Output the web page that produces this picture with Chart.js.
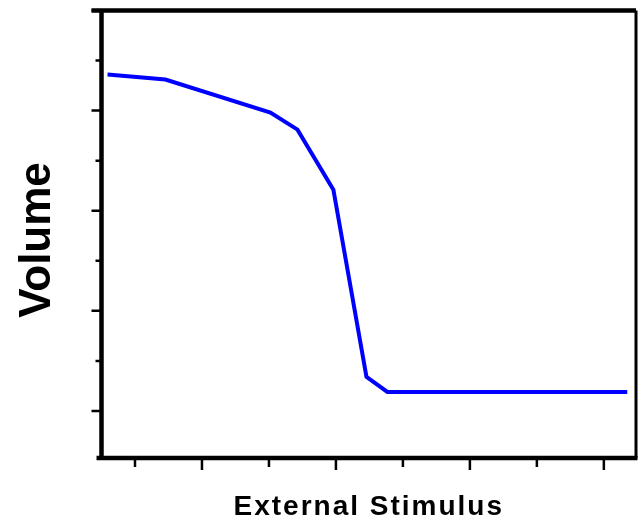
<!DOCTYPE html>
<html>
<head>
<meta charset="utf-8">
<script src="https://cdn.jsdelivr.net/npm/chart.js@4"></script>
<style>
  body { margin: 0; background: #fff; }
  #box { width: 639px; height: 523px; }
</style>
</head>
<body>
<div id="box"><canvas id="g1"></canvas></div>
<script>
// stimulus vs volume curve
const stimulus = [0.295, 0.727, 1.511, 1.713, 1.981, 2.228, 2.384, 4.175];
const volume   = [3.36, 3.31, 2.98, 2.81, 2.21, 0.34, 0.19, 0.19];

const xMajor = [1, 2, 3, 4];
const xMinor = [0.5, 1.5, 2.5, 3.5];
const yMajor = [0, 1, 2, 3, 4];
const yMinor = [0.5, 1.5, 2.5, 3.5];

const xTitle = "External Stimulus";
const yTitle = "Volume";

const points = stimulus.map((s, i) => ({ x: s, y: volume[i] }));

// box frame, outward ticks and axis titles
const frame = {
  id: 'frame',
  afterDraw(chart) {
    const ctx = chart.ctx;
    const a = chart.chartArea;
    const xs = chart.scales.x;
    const ys = chart.scales.y;
    ctx.save();
    ctx.strokeStyle = '#000';
    ctx.lineCap = 'butt';

    ctx.lineWidth = 4.5;
    ctx.beginPath();
    ctx.moveTo(a.left - 10, a.top); ctx.lineTo(a.right, a.top);
    ctx.moveTo(a.left, a.top - 2); ctx.lineTo(a.left, a.bottom + 2);
    ctx.moveTo(a.left - 5, a.bottom); ctx.lineTo(a.right + 1.5, a.bottom);
    ctx.stroke();
    ctx.lineWidth = 3;
    ctx.beginPath();
    ctx.moveTo(a.right, a.top); ctx.lineTo(a.right, a.bottom);
    ctx.stroke();

    ctx.lineWidth = 2.5;
    ctx.beginPath();
    yMajor.forEach(v => { const p = ys.getPixelForValue(v); ctx.moveTo(a.left - 10, p); ctx.lineTo(a.left, p); });
    yMinor.forEach(v => { const p = ys.getPixelForValue(v); ctx.moveTo(a.left - 6, p); ctx.lineTo(a.left, p); });
    xMajor.forEach(v => { const p = xs.getPixelForValue(v); ctx.moveTo(p, a.bottom); ctx.lineTo(p, a.bottom + 12); });
    xMinor.forEach(v => { const p = xs.getPixelForValue(v); ctx.moveTo(p, a.bottom); ctx.lineTo(p, a.bottom + 9); });
    ctx.stroke();

    ctx.fillStyle = '#000';
    ctx.textAlign = 'center';
    ctx.textBaseline = 'middle';
    ctx.font = 'bold 28px "Liberation Sans", Arial, sans-serif';
    ctx.letterSpacing = '2px';
    ctx.fillText(xTitle, (a.left + a.right) / 2, 507);
    ctx.letterSpacing = '0px';
    ctx.font = 'bold 44px "Liberation Sans", Arial, sans-serif';
    ctx.translate(38, 240);
    ctx.rotate(-Math.PI / 2);
    ctx.fillText(yTitle, 0, 0);
    ctx.restore();
  }
};

new Chart(document.getElementById('g1'), {
  type: 'line',
  data: {
    datasets: [{
      data: points,
      borderColor: '#0000ff',
      borderWidth: 4,
      pointRadius: 0,
      tension: 0,
      fill: false
    }]
  },
  options: {
    responsive: true,
    maintainAspectRatio: false,
    animation: false,
    layout: { padding: { left: 101.5, right: 3, top: 10.5, bottom: 65 } },
    scales: {
      x: { type: 'linear', min: 0.25, max: 4.24, display: false },
      y: { type: 'linear', min: -0.47, max: 4, display: false }
    },
    plugins: {
      legend: { display: false },
      tooltip: { enabled: false }
    }
  },
  plugins: [frame]
});
</script>
</body>
</html>
